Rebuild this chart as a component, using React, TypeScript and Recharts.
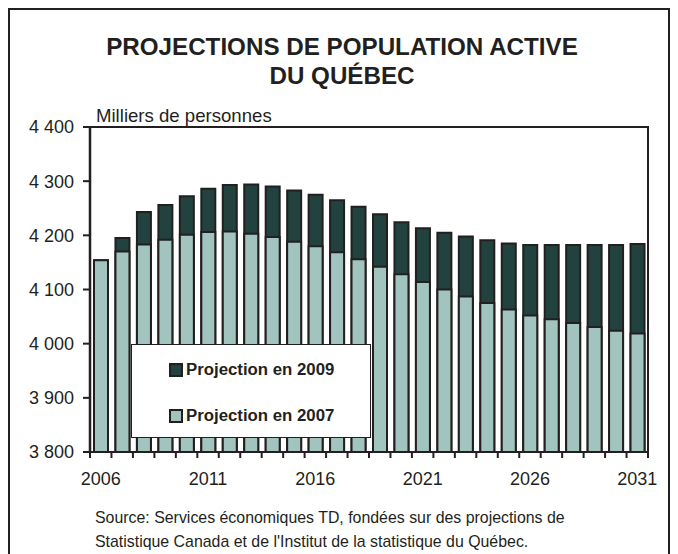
import React from 'react';
import {
  BarChart,
  Bar,
  XAxis,
  YAxis,
  Legend,
  ReferenceArea,
} from 'recharts';

const years = [
  '2006', '2007', '2008', '2009', '2010', '2011', '2012', '2013', '2014',
  '2015', '2016', '2017', '2018', '2019', '2020', '2021', '2022', '2023',
  '2024', '2025', '2026', '2027', '2028', '2029', '2030', '2031',
];

// Projection en 2009 (dark, behind)
const proj2009 = [
  4154, 4195, 4243, 4256, 4272, 4286, 4293, 4294, 4290, 4283, 4275, 4265, 4253,
  4239, 4224, 4213, 4205, 4198, 4191, 4185, 4182, 4182, 4182, 4182, 4182, 4184,
];

// Projection en 2007 (light, in front)
const proj2007 = [
  4154, 4170, 4183, 4192, 4201, 4206, 4207, 4203, 4197, 4188, 4180, 4169, 4156,
  4142, 4128, 4114, 4100, 4087, 4075, 4063, 4052, 4045, 4038, 4031, 4024, 4019,
];

const yTicks = [3800, 3900, 4000, 4100, 4200, 4300, 4400];
const labelYears = ['2006', '2011', '2016', '2021', '2026', '2031'];

const seriesNames = ['Projection en 2009', 'Projection en 2007'];
const seriesColors = ['#21423f', '#a2c4be'];

const INK = '#231f20';
const FONT = '"Liberation Sans", Arial, sans-serif';

const data = years.map((y, i) => ({
  year: y,
  p2009: proj2009[i],
  p2007: proj2007[i],
}));

const fmt = (v: number) => String(v).replace(/\B(?=(\d{3})+(?!\d))/g, ' ');

const YearTick = ({ x, y, payload }: any) => {
  const off = payload.offset ?? 558 / 26 / 2;
  const isLast = payload.index === years.length - 1;
  return (
    <g>
      <line x1={x - off} x2={x - off} y1={y - 6} y2={y} stroke={INK} strokeWidth={2} />
      {isLast && (
        <line x1={x + off} x2={x + off} y1={y - 6} y2={y} stroke={INK} strokeWidth={2} />
      )}
      {labelYears.includes(payload.value) && (
        <text x={x} y={y} dy={27} textAnchor="middle" fill={INK} fontSize={18} fontFamily={FONT}>
          {payload.value}
        </text>
      )}
    </g>
  );
};

const LegendBox = () => (
  <div
    style={{
      width: '100%',
      height: '100%',
      boxSizing: 'border-box',
      border: `1px solid ${INK}`,
      background: '#fff',
      paddingTop: 15,
      paddingLeft: 37,
    }}
  >
    {seriesNames.map((n, i) => (
      <div
        key={n}
        style={{ display: 'flex', alignItems: 'center', height: 20, marginBottom: i === 0 ? 26 : 0 }}
      >
        <span
          style={{
            display: 'inline-block',
            width: 10,
            height: 10,
            background: seriesColors[i],
            border: `2px solid ${INK}`,
            marginRight: 3,
          }}
        />
        <span style={{ fontWeight: 'bold', fontSize: 16.8, color: INK, fontFamily: FONT }}>{n}</span>
      </div>
    ))}
  </div>
);

export default function App() {
  return (
    <div
      style={{
        position: 'relative',
        width: 658,
        height: 560,
        border: `2px solid ${INK}`,
        fontFamily: FONT,
        color: INK,
        background: '#fff',
      }}
    >
      <div
        style={{
          position: 'absolute',
          left: 0,
          top: 22,
          width: 664,
          textAlign: 'center',
          fontWeight: 'bold',
          fontSize: 24.2,
          lineHeight: '29px',
        }}
      >
        PROJECTIONS DE POPULATION ACTIVE
        <br />
        DU QUÉBEC
      </div>
      <div style={{ position: 'absolute', left: 86, top: 96, fontSize: 18.6, lineHeight: '20px' }}>
        Milliers de personnes
      </div>
      <div style={{ position: 'absolute', left: 0, top: 0 }}>
        <BarChart
          width={650}
          height={500}
          data={data}
          barGap={-14}
          margin={{ top: 117, right: 12, bottom: 18, left: 0 }}
        >
          <XAxis
            dataKey="year"
            interval={0}
            height={40}
            tickLine={false}
            tickSize={6}
            tickMargin={0}
            axisLine={{ stroke: INK, strokeWidth: 2 }}
            tick={<YearTick />}
          />
          <YAxis
            domain={[3800, 4400]}
            ticks={yTicks}
            width={80}
            tickFormatter={fmt}
            tickSize={7}
            tickMargin={9}
            interval={0}
            tickLine={{ stroke: INK, strokeWidth: 2 }}
            axisLine={{ stroke: INK, strokeWidth: 2.5 }}
            tick={{ fill: INK, fontSize: 18, fontFamily: FONT }}
            allowDataOverflow
          />
          <ReferenceArea
            y1={3800}
            y2={4400}
            fill="none"
            stroke={INK}
            strokeWidth={2}
            ifOverflow="visible"
          />
          <Bar
            dataKey="p2009"
            name={seriesNames[0]}
            fill={seriesColors[0]}
            stroke={INK}
            strokeWidth={2}
            barSize={14}
            isAnimationActive={false}
          />
          <Bar
            dataKey="p2007"
            name={seriesNames[1]}
            fill={seriesColors[1]}
            stroke={INK}
            strokeWidth={2}
            barSize={14}
            isAnimationActive={false}
          />
          <Legend
            layout="horizontal"
            verticalAlign="middle"
            align="center"
            content={<LegendBox />}
            wrapperStyle={{ left: 121, top: 334, width: 240, height: 94 }}
          />
        </BarChart>
      </div>
      <div
        style={{
          position: 'absolute',
          left: 85,
          top: 496,
          fontSize: 15.9,
          lineHeight: '24px',
        }}
      >
        Source: Services économiques TD, fondées sur des projections de
        <br />
        Statistique Canada et de l'Institut de la statistique du Québec.
      </div>
    </div>
  );
}
